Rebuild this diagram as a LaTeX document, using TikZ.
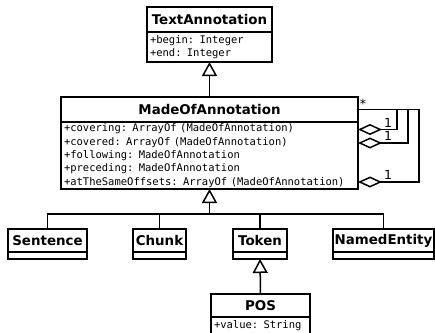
\documentclass[tikz,border=0pt]{standalone}
\usepackage{fontspec}
\setmainfont{DejaVu Sans}
\setmonofont{DejaVu Sans Mono}[WordSpace={1,0,0}]
\usetikzlibrary{arrows.meta}
\begin{document}
\begin{tikzpicture}[x=1pt,y=-1pt,
  line width=1.5pt,
  classtitle/.style={draw, fill=white, inner sep=0pt, outer sep=0pt,
    font=\fontsize{13.4}{15}\selectfont\bfseries},
  classattrs/.style={draw, fill=white, inner xsep=3pt, inner ysep=0pt, outer sep=0pt,
    anchor=north, align=left, font=\fontsize{10.5}{13.3}\selectfont\ttfamily},
  gen/.style={-{Triangle[open,length=14pt,width=15pt]}},
  comp/.style={{Diamond[open,length=24pt,width=11pt]}-},
  mult/.style={inner sep=0pt, font=\fontsize{12.5}{13}\selectfont}
]
\fill[white] (0,0) rectangle (435,332);
\useasboundingbox (0,0) rectangle (435,332);

% TextAnnotation
\node[classtitle, minimum width=125, minimum height=25] (ta) at (209.5,19.5) {TextAnnotation};
\node[classattrs, text width=119, minimum height=30] (taA) at (ta.south)
  {+begin: Integer\\+end: Integer};

% MadeOfAnnotation
\node[classtitle, minimum width=297, minimum height=25] (mo) at (209.5,109.5) {MadeOfAnnotation};
\node[classattrs, text width=291, minimum height=67] (moA) at (mo.south)
  {+covering: ArrayOf (MadeOfAnnotation)\\
   +covered: ArrayOf (MadeOfAnnotation)\\
   +following: MadeOfAnnotation\\
   +preceding: MadeOfAnnotation\\
   +atTheSameOffsets: ArrayOf (MadeOfAnnotation)};

% Subclasses
\node[classtitle, minimum width=79, minimum height=23] (sen) at (47.5,240.5) {Sentence};
\node[classattrs, text width=73, minimum height=7] (senA) at (sen.south) {};
\node[classtitle, minimum width=53, minimum height=23] (ch) at (159.5,240.5) {Chunk};
\node[classattrs, text width=47, minimum height=7] (chA) at (ch.south) {};
\node[classtitle, minimum width=54, minimum height=23] (tok) at (260,240.5) {Token};
\node[classattrs, text width=48, minimum height=7] (tokA) at (tok.south) {};
\node[classtitle, minimum width=101, minimum height=23] (ne) at (383.5,240.5) {NamedEntity};
\node[classattrs, text width=95, minimum height=7] (neA) at (ne.south) {};

% POS
\node[classtitle, minimum width=99, minimum height=23] (pos) at (260.5,305.5) {POS};
\node[classattrs, text width=93, minimum height=18] (posA) at (pos.south) {+value: String};

% Generalizations
\draw[gen] (mo.north) -- (taA.south);
\coordinate (j) at (209.5,214);
\draw[gen] (j) -- (moA.south);
\draw (sen.north) |- (j) -| (ne.north);
\draw (ch.north) -- (ch.north |- j);
\draw (tok.north) -- (tok.north |- j);
\draw[gen] (pos.north) -- (tokA.south);

% Self-associations of MadeOfAnnotation
\coordinate (r1) at (397,129.5);
\coordinate (r2) at (408,143);
\coordinate (r3) at (419,182);
\draw[comp] (moA.east |- r1) -- (r1) |- (mo.east);
\draw[comp] (moA.east |- r2) -- (r2) |- (mo.east);
\draw[comp] (moA.east |- r3) -- (r3) |- (mo.east);
\node[mult] (m1) at (388,122.5) {1};
\node[mult] (m2) at (388,136) {1};
\node[mult] (m3) at (388,175) {1};
\node[mult] (star) at (363,104) {*};
\end{tikzpicture}
\end{document}
